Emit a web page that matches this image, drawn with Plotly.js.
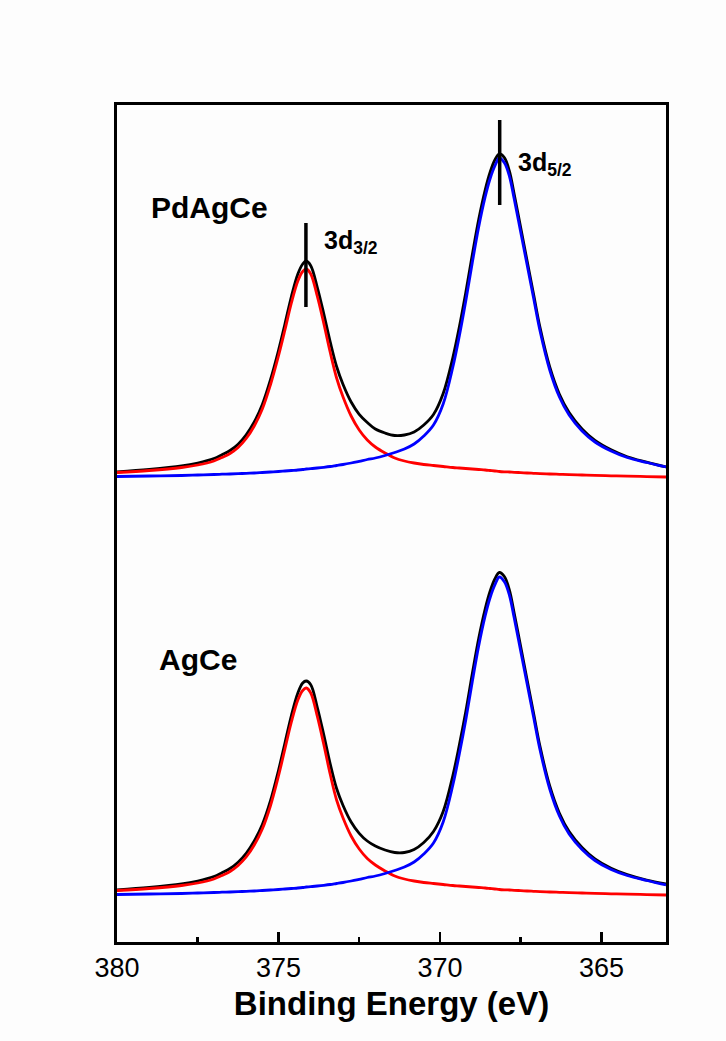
<!DOCTYPE html>
<html>
<head>
<meta charset="utf-8">
<script src="https://cdn.plot.ly/plotly-3.0.1.min.js"></script>
<style>html,body{margin:0;padding:0;background:#fdfdfd;}#chart{width:726px;height:1041px;}</style>
</head>
<body>
<div id="chart"></div>
<script>
// Binding energy grid (eV)
const energy = [380, 379, 378, 377.5, 377, 376.75, 376.5, 376.25, 376, 375.75, 375.5, 375.25,
  375, 374.8, 374.6, 374.4, 374.25, 374.14, 374.0, 373.8, 373.6, 373.4,
  373.2, 373.0, 372.75, 372.5, 372.25, 372, 371.7, 371.4, 371.1, 370.8,
  370.5, 370.2, 369.9, 369.6, 369.4, 369.2, 369.0, 368.8, 368.6, 368.45,
  368.3, 368.16, 368.0, 367.85, 367.7, 367.5, 367.3, 367.1, 366.9, 366.6,
  366.3, 366, 365.6, 365.2, 364.7, 364.2, 363.6, 363];

// PdAgCe (upper, offset) - intensity (a.u.)
const pdagceEnvelope = [470, 472.5, 476, 479, 483.5, 487.3, 491.5, 497.8, 507.2, 520, 537.5, 562,
  591.5, 618, 645.5, 668, 678, 681, 676.3, 655, 628.7, 600.5,
  575.5, 557.5, 540, 527.7, 519.5, 513, 509, 506.5, 507, 510,
  517, 527.5, 548.5, 584.5, 615, 649.5, 687, 722.5, 752, 769.5,
  782, 788, 784.2, 771, 747.7, 714.4, 681, 647.7, 614.4, 575,
  547.7, 529.4, 513, 501.6, 492.2, 485.3, 479.9, 475];
const pdagce3d32 = [469.5, 471.5, 474.5, 477, 481, 484.5, 488.5, 494.5, 503.5, 516, 533, 557,
  586, 612, 639, 661, 670.5, 673, 668, 646, 619, 590,
  564, 545, 526, 512, 502, 495, 489, 484, 481, 479,
  477.5, 476.5, 475.5, 474.5, 474, 473.5, 473, 472.5, 472, 471.5,
  471, 470.5, 470.2, 470, 469.7, 469.4, 469, 468.7, 468.4, 468,
  467.7, 467.4, 467, 466.6, 466.2, 465.8, 465.4, 465];
const pdagce3d52 = [465.5, 466, 466.5, 467, 467.5, 467.8, 468, 468.3, 468.7, 469, 469.5, 470,
  470.5, 471, 471.5, 472, 472.5, 473, 473.3, 474, 474.7, 475.5,
  476.5, 477.5, 479, 480.7, 482.5, 484, 486.5, 489.5, 493, 498,
  506, 517, 538, 575, 606, 641, 679, 715, 745, 763,
  776, 784, 779, 766, 743, 710, 677, 644, 611, 572,
  545, 527, 511, 500, 491, 484.5, 479.5, 475];

// AgCe (lower)
const agceEnvelope = [52, 54.5, 58, 61, 65.5, 69.3, 73.5, 79.8, 88.7, 101, 117.5, 141,
  171.5, 199, 226.5, 249, 259, 261, 257.3, 235, 207.7, 178.5,
  153.5, 136.5, 120, 108.7, 101, 96, 92, 89.5, 89.5, 92.5,
  99.5, 110.5, 130.5, 166.5, 197, 230.5, 268, 303.5, 333, 350.5,
  363, 369.5, 365.2, 352, 328.7, 295.4, 262, 228.7, 195.4, 156,
  128.7, 110.4, 94.5, 83.1, 73.7, 67.3, 61.9, 58];
const agce3d32 = [51.5, 53.5, 56.5, 59, 63, 66.5, 70.5, 76.5, 85, 97, 113, 136,
  166, 193, 220, 242, 251.5, 254, 249, 226, 198, 168,
  142, 124, 106, 93, 83.5, 77, 71, 66, 63, 61,
  59.5, 58.5, 57.5, 56.5, 56, 55.5, 55, 54.5, 54, 53.5,
  53, 52.5, 52.2, 52, 51.7, 51.4, 51, 50.7, 50.4, 50,
  49.7, 49.4, 49, 48.6, 48.2, 47.8, 47.4, 47];
const agce3d52 = [47.5, 48, 48.5, 49, 49.5, 49.8, 50, 50.3, 50.7, 51, 51.5, 52,
  52.5, 53, 53.5, 54, 54.5, 55, 55.3, 56, 56.7, 57.5,
  58.5, 59.5, 61, 62.7, 64.5, 66, 68.5, 71.5, 75, 80,
  88, 99, 120, 157, 188, 222, 260, 296, 326, 344,
  357, 365, 360, 347, 324, 291, 258, 225, 192, 153,
  126, 108, 92.5, 81.5, 72.5, 66.5, 61.5, 57];

// Peak marker bars (PdAgCe)
const markerEnergy = [374.15, 368.15];
const markerLow = [635, 737];
const markerHigh = [719, 822];

// Tick labels
const tickVals = [380, 375, 370, 365];
const tickText = ['380', '375', '370', '365'];
const minorTickVals = [377.5, 372.5, 367.5];

const FONT = 'Liberation Sans, Arial, Helvetica, sans-serif';

function line(y, color) {
  return {x: energy, y: y, type: 'scatter', mode: 'lines', showlegend: false, hoverinfo: 'skip',
          line: {color: color, width: 2.8, shape: 'spline', smoothing: 1}};
}

const traces = [
  line(pdagceEnvelope, '#000000'), line(pdagce3d32, '#ff0000'), line(pdagce3d52, '#0000ff'),
  line(agceEnvelope, '#000000'), line(agce3d32, '#ff0000'), line(agce3d52, '#0000ff')
];

const shapes = markerEnergy.map((e, i) => ({
  type: 'line', xref: 'x', yref: 'y', x0: e, x1: e, y0: markerLow[i], y1: markerHigh[i],
  line: {color: '#000000', width: 3.5}
}));

const annotations = [
  {text: 'PdAgCe', x: 379.01, y: 735, xanchor: 'left', yanchor: 'middle', showarrow: false,
   font: {family: FONT, size: 30, color: '#000', weight: 'bold'}},
  {text: 'AgCe', x: 378.76, y: 283, xanchor: 'left', yanchor: 'middle', showarrow: false,
   font: {family: FONT, size: 30, color: '#000', weight: 'bold'}},
  {text: '3d<sub>3/2</sub>', x: 373.64, y: 700, xanchor: 'left', yanchor: 'middle', showarrow: false,
   font: {family: FONT, size: 25, color: '#000', weight: 'bold'}},
  {text: '3d<sub>5/2</sub>', x: 367.66, y: 778, xanchor: 'left', yanchor: 'middle', showarrow: false,
   font: {family: FONT, size: 25, color: '#000', weight: 'bold'}}
];

const layout = {
  width: 726, height: 1041,
  margin: {l: 117, r: 60, t: 105, b: 99},
  paper_bgcolor: '#fdfdfd', plot_bgcolor: '#fdfdfd',
  showlegend: false,
  xaxis: {
    range: [380, 363], showgrid: false, zeroline: false,
    showline: true, mirror: true, linecolor: '#000', linewidth: 3,
    ticks: 'inside', ticklen: 10, tickwidth: 2.5, tickcolor: '#000',
    tickvals: tickVals, ticktext: tickText,
    tickfont: {family: FONT, size: 27, color: '#000'},
    minor: {tickvals: minorTickVals, ticks: 'inside', ticklen: 5, tickwidth: 2.5, tickcolor: '#000'},
    title: {text: 'Binding Energy (eV)', font: {family: FONT, size: 33, color: '#000', weight: 'bold'}, standoff: 10}
  },
  yaxis: {
    range: [0, 837], showgrid: false, zeroline: false,
    showline: true, mirror: true, linecolor: '#000', linewidth: 3,
    ticks: '', showticklabels: false
  },
  shapes: shapes,
  annotations: annotations
};

Plotly.newPlot('chart', traces, layout, {displayModeBar: false, staticPlot: true});
</script>
</body>
</html>
